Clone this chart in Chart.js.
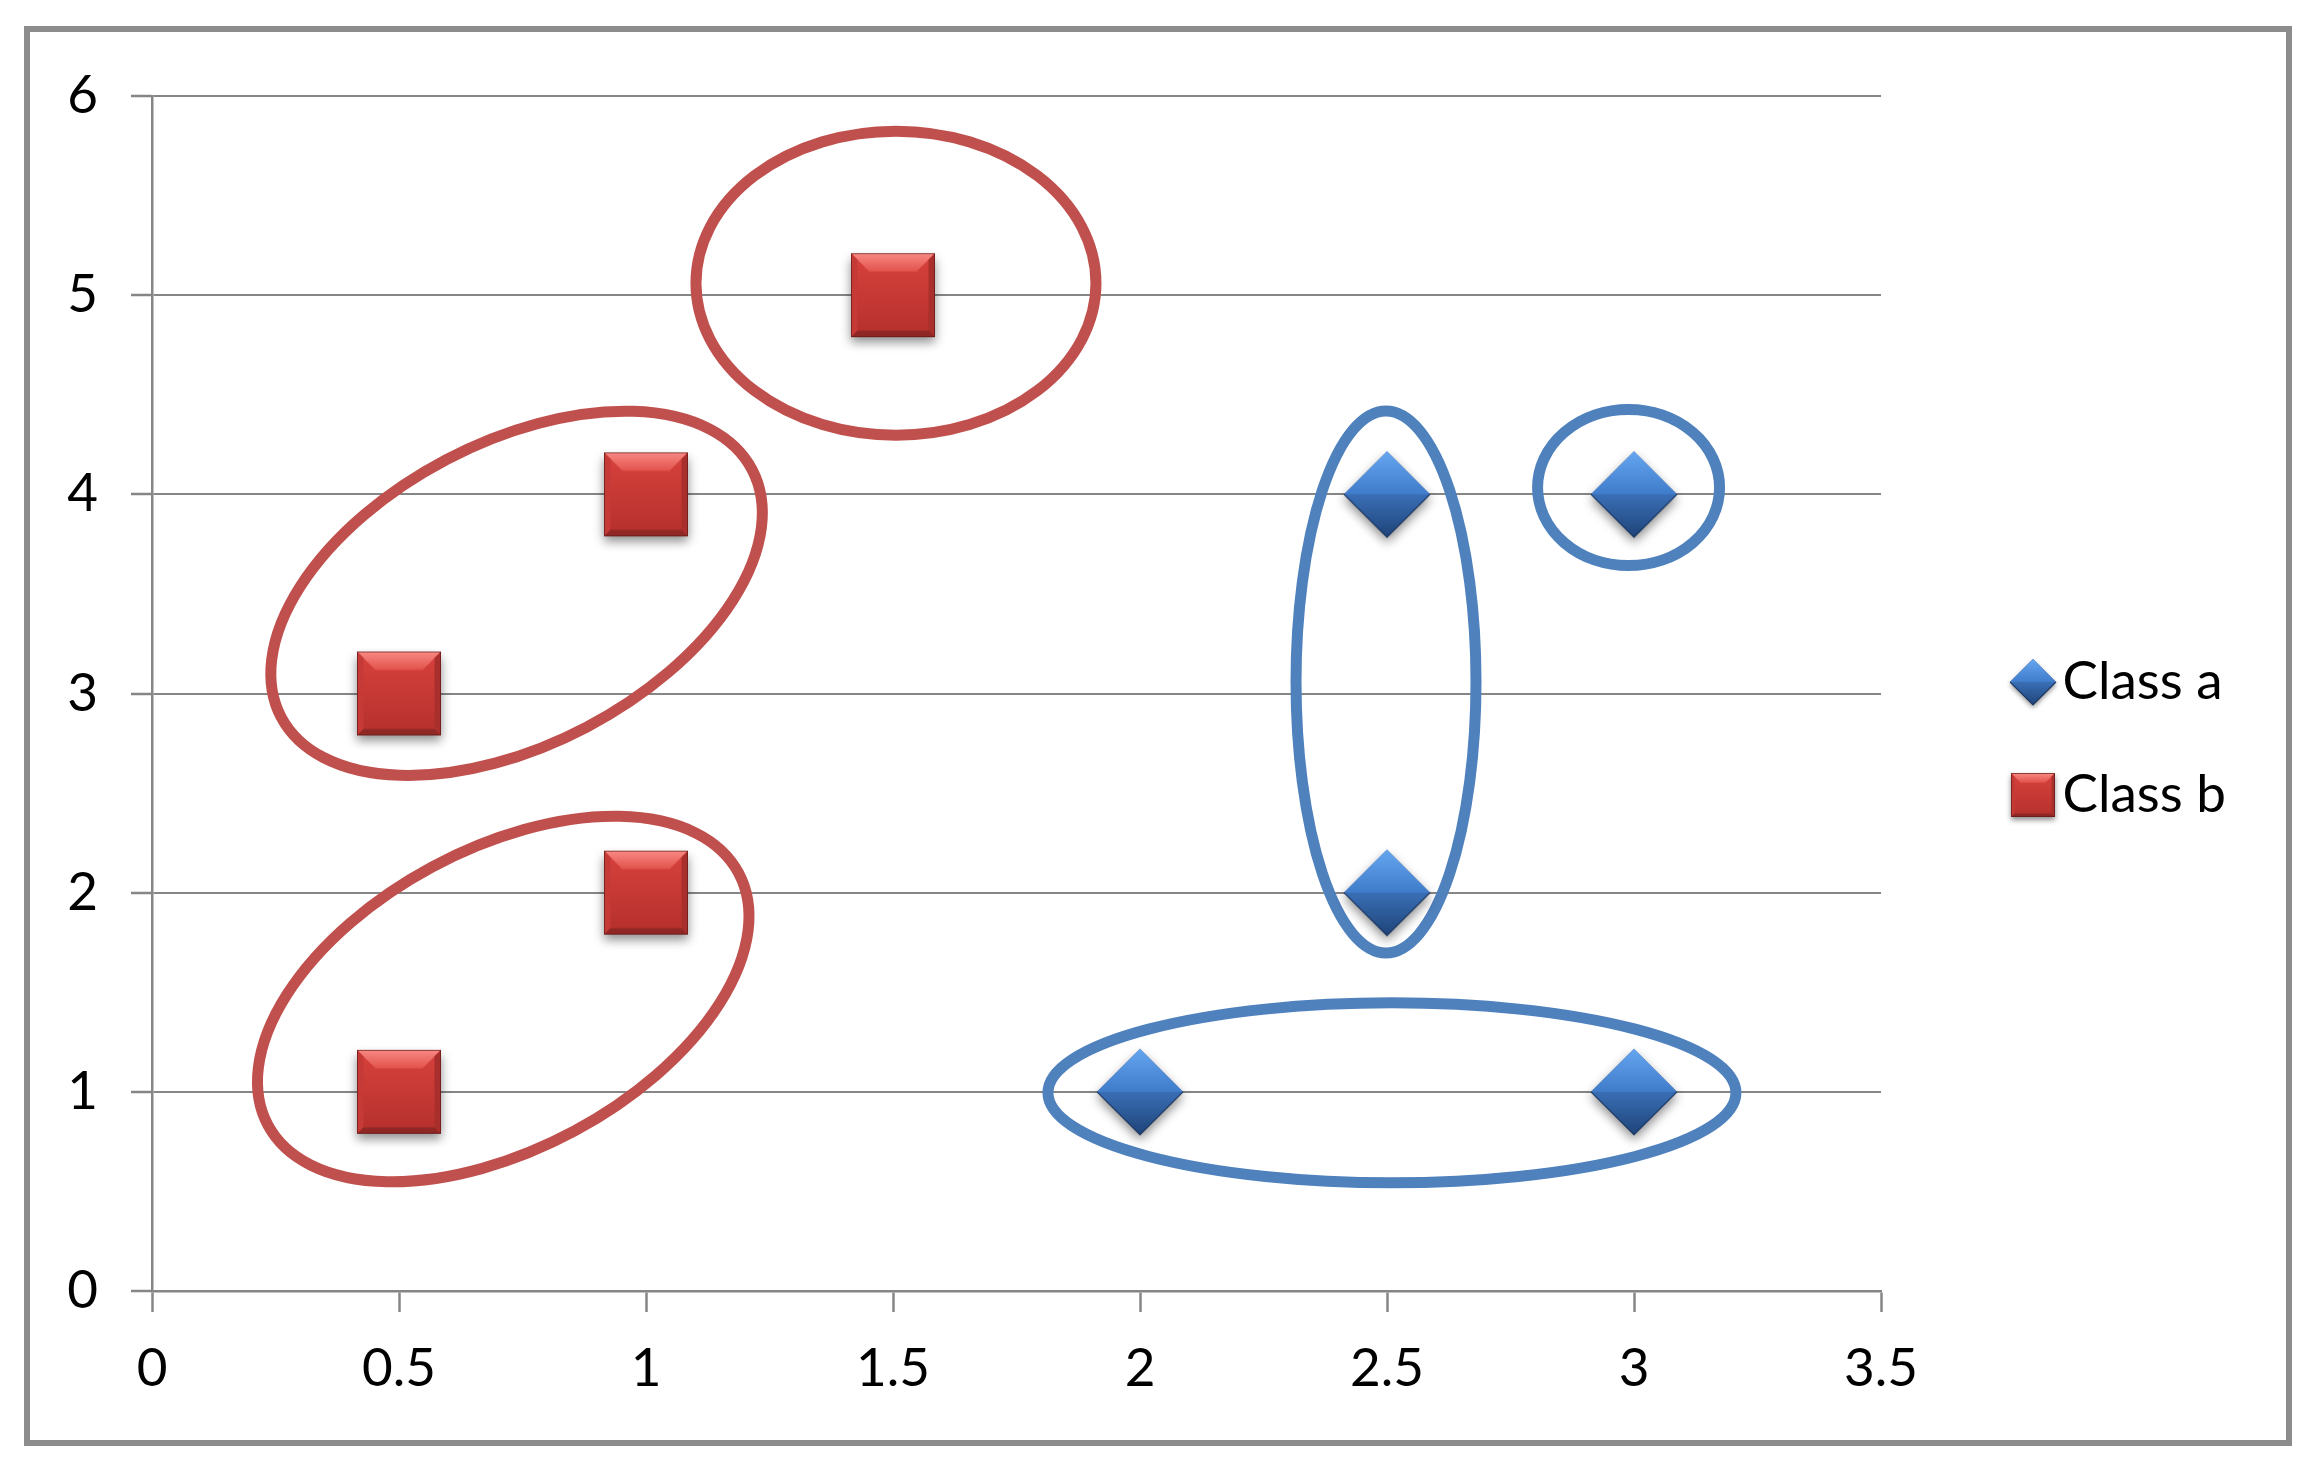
<!DOCTYPE html>
<html>
<head>
<meta charset="utf-8">
<script src="https://cdn.jsdelivr.net/npm/chart.js@4.4.1/dist/chart.umd.min.js"></script>
<style>
  html, body { margin: 0; padding: 0; background: #fff; }
  #frame {
    position: absolute; left: 24px; top: 26px; width: 2268px; height: 1420px;
    box-sizing: border-box; border: 6px solid #8c8c8c; pointer-events: none;
  }
  #chart { position: absolute; left: 0; top: 0; }
</style>
</head>
<body>
<canvas id="chart" width="2317" height="1472"></canvas>
<div id="frame"></div>
<script>
// --- Data ---
const seriesLabels = ['Class a', 'Class b'];
const classAX = [2, 2.5, 2.5, 3, 3];
const classAY = [1, 2, 4, 1, 4];
const classBX = [0.5, 0.5, 1, 1, 1.5];
const classBY = [1, 3, 2, 4, 5];
const xTicks = [0, 0.5, 1, 1.5, 2, 2.5, 3, 3.5];
const yTicks = [0, 1, 2, 3, 4, 5, 6];

// cluster rings, centres in data units
const clusterX = [1.506, 0.738, 0.711, 2.498, 2.989, 2.51];
const clusterY = [5.06, 3.503, 1.466, 3.058, 4.034, 0.995];

// --- Styles ---
const RED = '#c0504d';
const BLUE = '#4f81bd';
const GRID = '#868686';
const FONT = { family: 'Lato', size: 53 };
const clusterShapes = [
  { rx: 200, ry: 152, tilt: 0, color: RED },
  { rx: 266, ry: 151, tilt: -27.7, color: RED },
  { rx: 267, ry: 150, tilt: -28.2, color: RED },
  { rx: 90, ry: 271, tilt: 0, color: BLUE },
  { rx: 91, ry: 78, tilt: 0, color: BLUE },
  { rx: 344, ry: 90, tilt: 0, color: BLUE }
];

// --- Marker images (bevelled, like the office chart) ---
function poly(g, pts, fill) {
  g.beginPath();
  g.moveTo(pts[0][0], pts[0][1]);
  pts.slice(1).forEach(p => g.lineTo(p[0], p[1]));
  g.closePath();
  g.fillStyle = fill;
  g.fill();
}

function makeSquare(side, offsetX = 0) {
  const pad = Math.round(side * 0.2);
  const c = document.createElement('canvas');
  c.width = side + 2 * pad + 2 * Math.abs(offsetX);
  c.height = side + 2 * pad;
  const g = c.getContext('2d');
  const cx = c.width / 2 + offsetX, cy = c.height / 2;
  const s = side / 2, b = side * 0.22;
  const x0 = cx - s, y0 = cy - s, x1 = cx + s, y1 = cy + s;

  g.save();
  g.shadowColor = 'rgba(0,0,0,0.45)';
  g.shadowBlur = side * 0.12;
  g.shadowOffsetY = side * 0.07;
  g.fillStyle = '#9c2d2a';
  g.fillRect(x0, y0, side, side);
  g.restore();

  const face = g.createLinearGradient(0, y0, 0, y1);
  face.addColorStop(0, '#d8423d');
  face.addColorStop(1, '#b5302c');
  g.fillStyle = face;
  g.fillRect(x0, y0, side, side);

  const top = g.createLinearGradient(0, y0, 0, y0 + b);
  top.addColorStop(0, '#f98a85');
  top.addColorStop(1, '#e2524c');
  poly(g, [[x0, y0], [x1, y0], [x1 - b, y0 + b], [x0 + b, y0 + b]], top);
  poly(g, [[x0, y0], [x0 + b * 0.35, y0 + b * 0.35], [x0 + b * 0.35, y1 - b * 0.35], [x0, y1]], '#c53a36');
  poly(g, [[x1, y0], [x1 - b * 0.35, y0 + b * 0.35], [x1 - b * 0.35, y1 - b * 0.35], [x1, y1]], '#a92f2c');
  poly(g, [[x0, y1], [x1, y1], [x1 - b * 0.35, y1 - b * 0.35], [x0 + b * 0.35, y1 - b * 0.35]], '#8f2725');

  g.strokeStyle = 'rgba(95,25,22,0.7)';
  g.lineWidth = 1;
  g.strokeRect(x0 + 0.5, y0 + 0.5, side - 1, side - 1);
  return c;
}

function makeDiamond(half, offsetX = 0) {
  const pad = Math.round(half * 0.35);
  const c = document.createElement('canvas');
  c.width = 2 * (half + pad + Math.abs(offsetX));
  c.height = 2 * (half + pad);
  const g = c.getContext('2d');
  const cx = c.width / 2 + offsetX, cy = c.height / 2;
  const L = [cx - half, cy], T = [cx, cy - half], R = [cx + half, cy], B = [cx, cy + half];

  g.save();
  g.shadowColor = 'rgba(0,0,0,0.45)';
  g.shadowBlur = half * 0.25;
  g.shadowOffsetY = half * 0.12;
  poly(g, [L, T, R, B], '#2b5490');
  g.restore();

  const up = g.createLinearGradient(0, cy - half, 0, cy);
  up.addColorStop(0, '#66a6f0');
  up.addColorStop(1, '#3f7ccb');
  poly(g, [L, T, R], up);
  const down = g.createLinearGradient(0, cy, 0, cy + half);
  down.addColorStop(0, '#3a6fb6');
  down.addColorStop(1, '#1f4479');
  poly(g, [L, R, B], down);

  g.beginPath();
  g.moveTo(L[0], L[1]); g.lineTo(B[0], B[1]); g.lineTo(R[0], R[1]);
  g.strokeStyle = 'rgba(20,45,85,0.8)';
  g.lineWidth = 1.2;
  g.stroke();
  return c;
}

const pointA = makeDiamond(43);
const pointB = makeSquare(84);
// legend markers sit right of the legend box centre
const legendOffset = 44.5;
const legendA = makeDiamond(23, legendOffset);
const legendB = makeSquare(44, legendOffset);

// --- Layout numbers ---
const LEGEND_PAD = 60;
const LEGEND_BOX = 95;
const PLOT_RIGHT = 1881;
const measure = document.createElement('canvas').getContext('2d');
measure.font = `${FONT.size}px ${FONT.family}`;
const textW = Math.max(...seriesLabels.map(t => measure.measureText(t).width));
const legendW = LEGEND_PAD + LEGEND_BOX + FONT.size / 2 + textW + 10;
const padRight = 2317 - PLOT_RIGHT - legendW;

// --- Cluster rings ---
const clusterPlugin = {
  id: 'clusters',
  beforeDatasetsDraw(chart) {
    const { ctx, scales: { x, y } } = chart;
    ctx.save();
    clusterX.forEach((cx, i) => {
      const s = clusterShapes[i];
      ctx.beginPath();
      ctx.ellipse(x.getPixelForValue(cx), y.getPixelForValue(clusterY[i]),
        s.rx, s.ry, s.tilt * Math.PI / 180, 0, Math.PI * 2);
      ctx.strokeStyle = s.color;
      ctx.lineWidth = 11;
      ctx.stroke();
    });
    ctx.restore();
  }
};

const toPoints = (xs, ys) => xs.map((v, i) => ({ x: v, y: ys[i] }));

new Chart(document.getElementById('chart'), {
  type: 'scatter',
  data: {
    datasets: [
      { label: seriesLabels[0], data: toPoints(classAX, classAY), pointStyle: pointA, pointRadius: 43, backgroundColor: BLUE },
      { label: seriesLabels[1], data: toPoints(classBX, classBY), pointStyle: pointB, pointRadius: 42, backgroundColor: RED }
    ]
  },
  options: {
    responsive: false,
    animation: false,
    layout: { padding: { left: 0, top: 65, right: padRight, bottom: 60 } },
    plugins: {
      tooltip: { enabled: false },
      // empty title only keeps the plot top clear of the legend band
      title: { display: true, text: '', font: { size: 10, lineHeight: 1 }, padding: { top: 0, bottom: 21 } },
      legend: {
        position: 'right',
        labels: {
          usePointStyle: true,
          pointStyleWidth: LEGEND_BOX,
          padding: LEGEND_PAD,
          color: '#000',
          font: FONT,
          generateLabels: chart => chart.data.datasets.map((ds, i) => ({
            text: ds.label,
            pointStyle: i === 0 ? legendA : legendB,
            fillStyle: ds.backgroundColor,
            strokeStyle: ds.backgroundColor,
            lineWidth: 0,
            hidden: false,
            datasetIndex: i
          }))
        }
      }
    },
    scales: {
      x: {
        type: 'linear',
        min: xTicks[0],
        max: xTicks[xTicks.length - 1],
        afterBuildTicks: axis => { axis.ticks = xTicks.map(v => ({ value: v })); },
        afterFit: axis => { axis.height = 121; },
        grid: { drawOnChartArea: false, drawTicks: true, tickLength: 21, tickColor: GRID, tickWidth: 2.5 },
        border: { display: true, color: GRID, width: 2.5 },
        ticks: { color: '#000', font: FONT, padding: 25, maxRotation: 0, callback: v => String(v) }
      },
      y: {
        min: yTicks[0],
        max: yTicks[yTicks.length - 1],
        afterBuildTicks: axis => { axis.ticks = yTicks.map(v => ({ value: v })); },
        afterFit: axis => { axis.width = 152; },
        grid: { color: GRID, lineWidth: 2, drawTicks: true, tickLength: 21, tickColor: GRID, tickWidth: 2.5 },
        border: { display: true, color: GRID, width: 2.5 },
        ticks: { color: '#000', font: FONT, padding: 33, callback: v => String(v) }
      }
    }
  },
  plugins: [clusterPlugin]
});
</script>
</body>
</html>
